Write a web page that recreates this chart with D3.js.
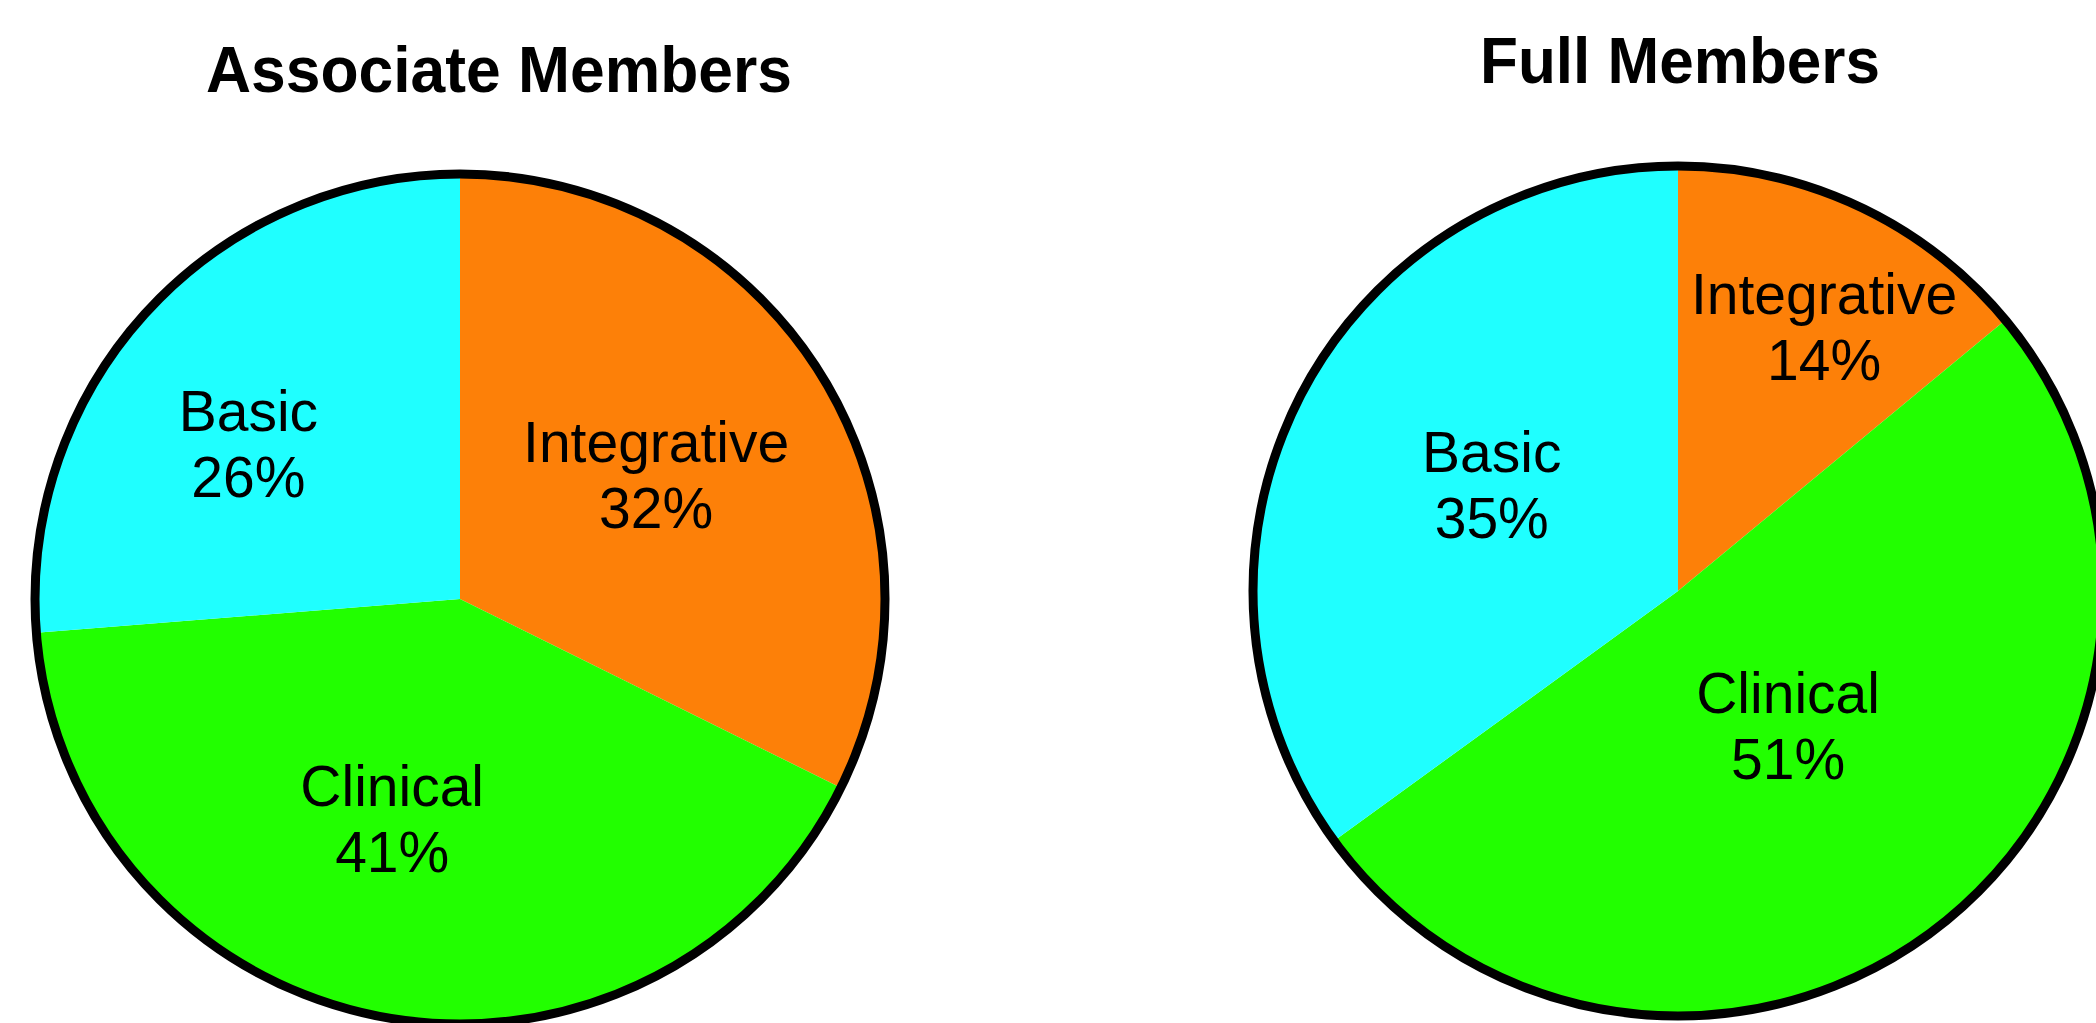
<!DOCTYPE html>
<html>
<head>
<meta charset="utf-8">
<script src="https://cdn.jsdelivr.net/npm/d3@7"></script>
<style>
  body { margin: 0; background: #fff; }
  svg { display: block; }
</style>
</head>
<body>
<div id="chart"></div>
<script>
  // Data
  const categories = ["Integrative", "Clinical", "Basic"];
  const associateValues = [32, 41, 26];
  const fullValues = [14, 51, 35];
  const chartTitles = ["Associate Members", "Full Members"];

  const sliceColors = ["#FD8008", "#22FF00", "#1FFFFF"];

  let width = 2096;
  let height = 1023;
  let radius = 425;

  // Where each pie sits, and label placement (radius px, angle nudge deg) per slice
  let pies = [
    { title: chartTitles[0], values: associateValues, cx: 460, cy: 599,
      titleDx: 39, titleY: 92, titleLen: 586,
      labelR: [222, 249, 251], labelNudge: [3.9, 4.9, -10.2] },
    { title: chartTitles[1], values: fullValues, cx: 1678, cy: 591,
      titleDx: 2, titleY: 83, titleLen: 400,
      labelR: [284, 190, 205], labelNudge: [5.75, 2.4, -2.3] }
  ];

  let fontFamily = "'Liberation Sans', Arial, Helvetica, sans-serif";

  let color = d3.scaleOrdinal()
    .domain(categories)
    .range(sliceColors);

  let pie = d3.pie()
    .sort(null)
    .value(d => d.value);

  let arc = d3.arc()
    .innerRadius(0)
    .outerRadius(radius);

  let svg = d3.select("#chart")
    .append("svg")
    .attr("width", width)
    .attr("height", height);

  pies.forEach(function (p) {
    let rows = categories.map((c, i) => ({ category: c, value: p.values[i] }));
    let arcs = pie(rows);

    let g = svg.append("g")
      .attr("transform", "translate(" + p.cx + "," + p.cy + ")");

    // Slices
    g.selectAll("path.slice")
      .data(arcs)
      .enter()
      .append("path")
      .attr("class", "slice")
      .attr("d", arc)
      .style("fill", d => color(d.data.category))
      .style("stroke", "none");

    // Outline
    g.append("circle")
      .attr("r", radius)
      .style("fill", "none")
      .style("stroke", "#000")
      .style("stroke-width", 9);

    // Labels
    arcs.forEach(function (d, i) {
      let a = (d.startAngle + d.endAngle) / 2 + p.labelNudge[i] * Math.PI / 180;
      let r = p.labelR[i];
      let x = r * Math.sin(a);
      let y = -r * Math.cos(a);

      let t = g.append("text")
        .attr("text-anchor", "middle")
        .style("font-family", fontFamily)
        .style("font-size", "57px")
        .style("fill", "#000");

      t.append("tspan")
        .attr("x", x)
        .attr("y", y - 33)
        .text(d.data.category);

      t.append("tspan")
        .attr("x", x)
        .attr("y", y + 33)
        .text(d.data.value + "%");
    });

    // Title
    svg.append("text")
      .attr("x", p.cx + p.titleDx)
      .attr("y", p.titleY)
      .attr("text-anchor", "middle")
      .attr("textLength", p.titleLen)
      .attr("lengthAdjust", "spacingAndGlyphs")
      .style("font-family", fontFamily)
      .style("font-weight", 700)
      .style("font-size", "64px")
      .style("fill", "#000")
      .text(p.title);
  });
</script>
</body>
</html>
